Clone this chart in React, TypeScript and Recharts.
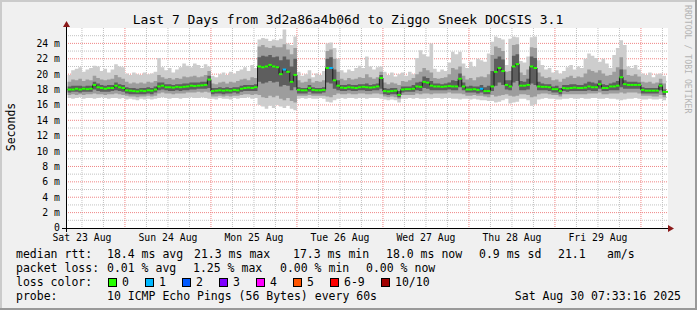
import { ComposedChart, Area, Line, XAxis, YAxis, CartesianGrid } from 'recharts'

const MONO = '"DejaVu Sans Mono", "Liberation Mono", monospace'

// hours since Sat 23 Aug 00:00, one sample per hour
const startHour = 8

// median rtt (ms)
const med = [
  18.0, 18.0, 18.1, 18.0, 18.1, 18.05, 18.1,
  18.6, 18.3, 18.2, 18.1, 18.2, 18.2, 18.5, 18.3, 18.2,
  17.9, 17.85, 17.8, 17.75, 17.85, 17.8, 17.9, 17.85, 18.0,
  18.4, 18.5, 18.3, 18.3, 18.25, 18.35, 18.3, 18.35, 18.4,
  18.5, 18.45, 18.5, 18.55, 18.6, 19.3,
  17.8, 17.85, 17.9, 17.85, 17.9, 17.85, 17.95, 17.9,
  18.1, 18.2, 18.25, 18.2, 18.3,
  21.0, 20.9, 21.0, 21.2, 21.0, 20.9,
  20.0, 20.6, 20.3, 19.0, 19.9,
  17.95, 17.9, 17.9, 18.2, 17.95, 17.9, 17.9, 17.95,
  20.8, 20.8, 19.2, 18.5,
  18.25, 18.2, 18.3, 18.25, 18.2, 18.3, 18.35, 18.3, 18.25, 18.3,
  18.4, 19.5,
  17.8, 17.75, 17.8, 17.85, 17.3,
  18.0, 18.05, 18.05, 18.1, 18.4, 18.35,
  19.0, 18.9, 18.5,
  18.4, 18.4, 18.35, 18.4, 18.45, 18.4, 18.4,
  19.4, 18.4,
  18.0, 18.0, 18.05, 17.95,
  18.1,
  17.8, 17.8,
  18.4, 20.3, 20.8, 20.4, 18.6, 18.4, 21.0, 21.3, 18.5, 18.5, 18.6, 21.0, 20.8, 18.4,
  18.35, 18.35, 18.3, 18.05, 18.05, 17.8,
  18.2, 18.15, 18.2, 18.25, 18.2, 18.2, 18.25,
  18.4, 18.3, 18.3, 18.7, 18.2, 18.2, 18.4, 18.4, 18.5,
  19.6, 18.7, 18.6, 18.6, 18.6, 18.6,
  17.95, 17.85, 17.85, 17.85, 17.85, 18.5, 17.7, 17.7,
]

// slowest ping of each hour
const maxRtt = [
  19.9, 20.5, 20.7, 20.9, 20.3, 20.6, 20.8,
  21.1, 21.0, 20.4, 20.7, 20.2, 20.6, 21.3, 21.0, 20.9,
  20.1, 19.9, 20.2, 20.0, 19.9, 20.2, 20.0, 20.1, 20.3,
  22.1, 20.9, 20.5, 20.8, 20.2, 20.6, 20.9, 21.4, 21.1,
  20.9, 21.4, 21.2, 20.8, 21.3, 21.0,
  19.8, 19.6, 20.0, 20.2, 19.9, 20.3, 20.1, 20.4,
  20.6, 20.9, 20.4, 21.2, 20.8,
  24.5, 24.7, 24.6, 24.3, 24.5, 24.4,
  24.6, 25.8, 24.0, 23.8, 24.9,
  20.3, 19.8, 20.0, 20.5, 19.6, 20.1, 19.9, 20.4,
  24.0, 24.1, 23.4, 22.0,
  20.5, 20.2, 20.6, 20.4, 20.8, 21.1, 20.8, 22.3, 21.0, 20.6,
  20.9, 21.0,
  20.3, 19.9, 20.2, 19.7, 20.0,
  20.2, 19.8, 20.3, 20.0, 22.1, 23.1,
  22.6, 22.3, 24.0,
  20.7, 20.3, 20.6, 20.4, 21.5, 22.9, 22.6,
  22.9, 21.4,
  20.8, 21.6, 21.0, 22.0,
  21.8,
  21.6, 22.7,
  24.2, 24.9, 24.7, 24.5, 21.2, 24.6, 24.9, 24.8, 21.7, 21.5, 22.3, 24.8, 24.9, 21.8,
  21.2, 20.6, 20.8, 20.2, 20.5, 20.1,
  20.4, 20.9, 21.2, 20.6, 21.0, 20.8, 22.0,
  22.7, 22.4, 22.1, 21.6, 22.0, 21.4, 20.8, 22.5, 23.4,
  24.4, 23.8, 21.0, 20.8, 21.2, 20.6,
  20.1, 19.9, 20.2, 19.6, 20.0, 20.1, 19.8, 19.8,
]

// fastest ping of each hour
const minRtt = [
  16.9, 16.8, 16.9, 17.0, 16.8, 16.9, 16.9,
  16.8, 16.9, 17.0, 16.9, 16.8, 16.9, 16.9, 16.8, 16.9,
  16.7, 16.8, 16.7, 16.6, 16.8, 16.7, 16.8, 16.7, 16.8,
  16.9, 17.0, 16.9, 16.8, 16.9, 16.9, 16.8, 16.9, 16.9,
  17.0, 16.9, 16.9, 17.0, 16.9, 16.8,
  16.8, 16.7, 16.9, 16.8, 16.8, 16.7, 16.9, 16.8,
  16.9, 16.9, 17.0, 16.8, 16.9,
  16.0, 15.8, 15.5, 15.9, 15.6, 16.0,
  15.8, 15.6, 15.9, 15.5, 15.3,
  16.8, 16.9, 16.8, 16.9, 16.8, 16.8, 16.9, 16.8,
  16.4, 16.3, 16.6, 16.8,
  16.9, 16.8, 16.9, 16.9, 16.8, 16.9, 16.9, 16.8, 16.9, 16.9,
  16.9, 16.8,
  16.7, 16.6, 16.7, 16.6, 16.3,
  16.8, 16.8, 16.9, 16.8, 16.9, 16.8,
  16.8, 16.9, 16.8,
  16.9, 16.9, 16.8, 16.9, 16.9, 16.8, 16.8,
  16.7, 16.8,
  16.8, 16.7, 16.8, 16.7,
  16.6,
  16.6, 16.5,
  16.5, 16.3, 16.4, 16.6, 16.8, 16.2, 16.3, 16.4, 16.8, 16.8, 16.6, 15.9, 16.1, 16.7,
  16.8, 16.9, 16.8, 16.8, 16.7, 16.7,
  16.8, 16.8, 16.9, 16.8, 16.8, 16.9, 16.8,
  16.8, 16.9, 16.9, 16.8, 16.8, 16.9, 16.8, 16.8, 16.7,
  16.6, 16.7, 16.8, 16.8, 16.9, 16.8,
  16.7, 16.7, 16.8, 16.7, 16.7, 16.8, 16.6, 16.6,
]

// 2nd / 9th ping band
const bandHi = [
  19.0, 19.3, 19.2, 19.4, 19.1, 19.3, 19.2,
  19.8, 19.5, 19.3, 19.2, 19.3, 19.4, 19.9, 19.6, 19.4,
  19.0, 18.8, 18.9, 18.8, 18.9, 18.8, 19.0, 18.9, 19.1,
  19.9, 19.6, 19.4, 19.5, 19.3, 19.5, 19.4, 19.7, 19.6,
  19.7, 19.8, 19.6, 19.7, 19.9, 20.4,
  18.8, 18.7, 18.9, 19.0, 18.8, 19.0, 18.9, 19.1,
  19.3, 19.4, 19.2, 19.6, 19.5,
  23.6, 23.8, 23.5, 23.4, 23.7, 23.5,
  23.5, 23.9, 23.2, 22.6, 23.4,
  19.2, 18.9, 19.0, 19.4, 18.9, 19.1, 19.0, 19.2,
  23.0, 23.2, 22.0, 20.3,
  19.4, 19.2, 19.5, 19.3, 19.4, 19.6, 19.5, 20.0, 19.6, 19.4,
  19.6, 20.3,
  18.9, 18.7, 18.9, 18.8, 18.6,
  19.1, 19.0, 19.2, 19.5, 20.0, 20.3,
  20.8, 20.5, 20.2,
  19.5, 19.4, 19.5, 19.6, 20.0, 20.8, 20.6,
  21.0, 19.8,
  19.3, 19.5, 19.2, 19.6,
  19.7,
  19.6, 20.0,
  22.5, 23.6, 23.4, 23.0, 20.3, 20.4, 23.8, 23.9, 20.2, 19.9, 20.6, 23.5, 23.4, 20.2,
  19.7, 19.5, 19.6, 19.2, 19.3, 19.0,
  19.4, 19.6, 19.8, 19.5, 19.7, 19.6, 20.1,
  20.6, 20.4, 20.2, 20.5, 20.1, 19.8, 19.9, 20.3, 20.9,
  22.2, 20.6, 19.9, 19.8, 20.0, 19.7,
  19.0, 18.9, 19.0, 18.8, 18.9, 19.4, 18.8, 18.8,
]

const bandLo = [
  17.3, 17.4, 17.3, 17.4, 17.3, 17.4, 17.4,
  17.5, 17.4, 17.4, 17.3, 17.4, 17.4, 17.5, 17.4, 17.3,
  17.2, 17.1, 17.1, 17.0, 17.1, 17.1, 17.2, 17.1, 17.2,
  17.5, 17.6, 17.5, 17.5, 17.4, 17.5, 17.5, 17.5, 17.6,
  17.6, 17.6, 17.7, 17.6, 17.7, 17.6,
  17.1, 17.1, 17.2, 17.1, 17.2, 17.1, 17.2, 17.2,
  17.3, 17.4, 17.4, 17.3, 17.4,
  17.3, 17.0, 16.9, 17.2, 17.0, 17.2,
  16.8, 16.6, 16.9, 16.5, 16.3,
  17.2, 17.2, 17.2, 17.3, 17.2, 17.2, 17.2, 17.2,
  17.1, 17.0, 17.3, 17.5,
  17.4, 17.4, 17.5, 17.4, 17.4, 17.5, 17.5, 17.4, 17.4, 17.5,
  17.5, 17.4,
  17.1, 17.0, 17.1, 17.0, 16.8,
  17.3, 17.3, 17.3, 17.3, 17.5, 17.4,
  17.5, 17.5, 17.4,
  17.5, 17.5, 17.5, 17.5, 17.6, 17.5, 17.5,
  17.5, 17.4,
  17.2, 17.2, 17.3, 17.2,
  17.2,
  17.1, 17.0,
  17.3, 17.1, 17.2, 17.3, 17.4, 17.2, 17.1, 17.2, 17.4, 17.4, 17.3, 17.0, 17.1, 17.4,
  17.5, 17.5, 17.4, 17.3, 17.3, 17.1,
  17.4, 17.4, 17.4, 17.4, 17.4, 17.4, 17.4,
  17.5, 17.5, 17.5, 17.6, 17.4, 17.4, 17.5, 17.5, 17.5,
  17.6, 17.5, 17.6, 17.6, 17.6, 17.5,
  17.2, 17.2, 17.2, 17.1, 17.1, 17.3, 17.0, 17.0,
]

// 4th / 7th ping band (dark core)
const coreHi = [
  18.4, 18.5, 18.5, 18.5, 18.4, 18.5, 18.5,
  19.0, 18.8, 18.6, 18.5, 18.6, 18.6, 18.9, 18.7, 18.6,
  18.3, 18.2, 18.2, 18.1, 18.2, 18.2, 18.3, 18.2, 18.4,
  18.9, 18.9, 18.7, 18.7, 18.6, 18.7, 18.7, 18.8, 18.8,
  18.9, 18.9, 18.9, 19.0, 19.0, 19.8,
  18.2, 18.2, 18.3, 18.2, 18.3, 18.2, 18.3, 18.3,
  18.5, 18.6, 18.6, 18.6, 18.7,
  22.2, 22.4, 22.3, 22.5, 22.2, 22.3,
  21.8, 22.3, 21.9, 21.0, 22.0,
  18.3, 18.2, 18.2, 18.6, 18.3, 18.2, 18.2, 18.3,
  22.0, 22.2, 20.6, 19.2,
  18.6, 18.6, 18.7, 18.6, 18.6, 18.7, 18.7, 18.8, 18.6, 18.7,
  18.8, 19.9,
  18.2, 18.1, 18.2, 18.2, 17.8,
  18.4, 18.4, 18.4, 18.6, 18.9, 19.0,
  19.7, 19.5, 19.1,
  18.8, 18.8, 18.7, 18.8, 18.9, 19.2, 19.1,
  20.1, 18.9,
  18.4, 18.5, 18.4, 18.4,
  18.6,
  18.3, 18.5,
  20.4, 22.0, 22.3, 21.9, 19.2, 19.2, 22.4, 22.6, 19.1, 19.0, 19.4, 22.3, 22.1, 19.0,
  18.8, 18.7, 18.7, 18.4, 18.5, 18.2,
  18.6, 18.6, 18.7, 18.7, 18.6, 18.6, 18.8,
  19.0, 18.9, 18.8, 19.2, 18.7, 18.6, 18.8, 18.9, 19.1,
  20.6, 19.2, 19.0, 19.0, 19.0, 18.9,
  18.3, 18.2, 18.2, 18.2, 18.2, 18.8, 18.0, 18.0,
]

const coreLo = [
  17.6, 17.7, 17.7, 17.6, 17.7, 17.7, 17.7,
  18.0, 17.8, 17.7, 17.7, 17.7, 17.8, 17.9, 17.8, 17.7,
  17.5, 17.4, 17.4, 17.4, 17.4, 17.4, 17.5, 17.4, 17.6,
  17.9, 18.0, 17.9, 17.8, 17.8, 17.9, 17.8, 17.9, 17.9,
  18.0, 18.0, 18.1, 18.1, 18.1, 18.2,
  17.4, 17.5, 17.5, 17.4, 17.5, 17.5, 17.6, 17.5,
  17.7, 17.8, 17.8, 17.8, 17.8,
  19.0, 18.8, 18.9, 19.1, 18.9, 19.0,
  18.4, 18.6, 18.5, 17.9, 18.3,
  17.5, 17.5, 17.5, 17.7, 17.5, 17.5, 17.5, 17.6,
  18.9, 18.8, 18.1, 17.9,
  17.8, 17.8, 17.9, 17.8, 17.8, 17.9, 17.9, 17.8, 17.8, 17.9,
  17.9, 18.1,
  17.4, 17.3, 17.4, 17.4, 17.0,
  17.6, 17.7, 17.7, 17.7, 17.9, 17.8,
  18.2, 18.1, 17.9,
  17.9, 17.9, 17.9, 17.9, 18.0, 17.9, 17.9,
  18.3, 17.9,
  17.6, 17.6, 17.6, 17.5,
  17.6,
  17.4, 17.4,
  17.8, 18.5, 18.9, 18.6, 18.0, 17.9, 18.9, 19.1, 17.9, 17.9, 18.0, 18.8, 18.6, 17.9,
  17.9, 17.9, 17.8, 17.6, 17.6, 17.4,
  17.8, 17.7, 17.8, 17.8, 17.8, 17.8, 17.8,
  17.9, 17.8, 17.8, 18.1, 17.8, 17.8, 17.9, 17.9, 17.9,
  18.3, 18.1, 18.1, 18.1, 18.1, 18.1,
  17.5, 17.5, 17.5, 17.5, 17.5, 17.9, 17.3, 17.3,
]

// hours whose median was drawn with 1/10 loss
const lossHours = [68, 81, 123]

const dayTicks = [12, 36, 60, 84, 108, 132, 156]
const dayLabels = ['Sat 23 Aug', 'Sun 24 Aug', 'Mon 25 Aug', 'Tue 26 Aug', 'Wed 27 Aug', 'Thu 28 Aug', 'Fri 29 Aug']
const yTicks = [0, 2, 4, 6, 8, 10, 12, 14, 16, 18, 20, 22, 24]

const rttLegend = ['18.4 ms avg', '21.3 ms max', '17.3 ms min', '18.0 ms now', '0.9 ms sd', '21.1', 'am/s']
const lossLegend = ['0.01 % avg', '1.25 % max', '0.00 % min', '0.00 % now']
const lossColors = [
  { label: '0', color: '#26ff00' },
  { label: '1', color: '#00b8ff' },
  { label: '2', color: '#0059ff' },
  { label: '3', color: '#7e00ff' },
  { label: '4', color: '#ff00ff' },
  { label: '5', color: '#ff5500' },
  { label: '6-9', color: '#ff0000' },
  { label: '10/10', color: '#a10000' },
]

const rows = med.map((m, i) => ({
  h: startHour + i,
  med: m,
  outer: [minRtt[i], maxRtt[i]],
  band: [bandLo[i], bandHi[i]],
  core: [coreLo[i], coreHi[i]],
  loss: lossHours.includes(startHour + i) ? 1 : 0,
}))

const majorX = [24, 48, 72, 96, 120, 144, 168]
const minorX: number[] = []
for (let h = 12; h <= 174; h += 6) if (h % 24 !== 0) minorX.push(h)
const majorY = yTicks.filter((v) => v > 0)
const minorY = [1, 3, 5, 7, 9, 11, 13, 15, 17, 19, 21, 23, 25]

const rttX = [107, 194, 293, 386, 479, 558, 607]
const lossX = [107, 193, 280, 366]
const boxX = [108, 145, 182, 219, 256, 293, 330, 381]

function MedianDot(props: any) {
  const { cx, cy, payload, index } = props
  if (cx == null || cy == null) return <g key={`m${index}`} />
  return (
    <rect
      key={`m${index}`}
      x={cx}
      y={cy - 1}
      width={3.6}
      height={2}
      fill={payload.loss ? '#00b8ff' : '#26ff00'}
    />
  )
}

export default function App() {
  const txt = { fontFamily: MONO, fontSize: 11.5, fill: '#000' }
  return (
    <div
      style={{
        position: 'absolute',
        left: 0,
        top: 0,
        width: 697,
        height: 310,
        background: '#f0f0f0',
        overflow: 'hidden',
      }}
    >
      <ComposedChart width={697} height={310} data={rows} margin={{ top: 28, right: 29, bottom: 62, left: 0 }}>
        <CartesianGrid
          fill="#ffffff"
          stroke="#c2c2c2"
          strokeDasharray="1 1"
          horizontalValues={minorY}
          verticalValues={minorX}
        />
        <CartesianGrid
          stroke="#f08585"
          strokeDasharray="1 1"
          horizontalValues={majorY}
          verticalValues={majorX}
        />
        <XAxis
          type="number"
          dataKey="h"
          domain={[7.55, 175.55]}
          allowDataOverflow
          ticks={dayTicks}
          interval={0}
          tickFormatter={(v: number) => dayLabels[dayTicks.indexOf(v)] ?? ''}
          axisLine={false}
          tickLine={false}
          tickSize={4}
          tickMargin={2}
          height={20}
          tick={{ fontSize: 9.8, fontFamily: MONO, fill: '#000' }}
        />
        <YAxis
          type="number"
          domain={[0, 26]}
          allowDataOverflow
          ticks={yTicks}
          interval={0}
          tickFormatter={(v: number) => (v === 0 ? '0' : `${v} m`)}
          axisLine={false}
          tickLine={false}
          tickSize={4}
          tickMargin={2}
          width={66}
          tick={{ fontSize: 9.8, fontFamily: MONO, fill: '#000' }}
        />
        <Area dataKey="outer" type="stepAfter" fill="#cdcdcd" fillOpacity={1} stroke="none" isAnimationActive={false} />
        <Area dataKey="band" type="stepAfter" fill="#9d9d9d" fillOpacity={1} stroke="none" isAnimationActive={false} />
        <Area dataKey="core" type="stepAfter" fill="#5e5e5e" fillOpacity={1} stroke="none" isAnimationActive={false} />
        <Line
          dataKey="med"
          type="stepAfter"
          stroke="#1c1c1c"
          strokeWidth={1}
          dot={(p: any) => <MedianDot {...p} />}
          activeDot={false}
          isAnimationActive={false}
        />
      </ComposedChart>

      <svg
        width={697}
        height={310}
        style={{ position: 'absolute', left: 0, top: 0, pointerEvents: 'none' }}
      >
        {/* frame shading */}
        <rect x={0} y={0} width={697} height={2} fill="#cbcbcb" />
        <rect x={0} y={0} width={2} height={310} fill="#cbcbcb" />
        <rect x={695} y={0} width={2} height={310} fill="#999999" />
        <rect x={0} y={308} width={697} height={2} fill="#999999" />

        {/* axes with arrows */}
        <line x1={62} y1={228.5} x2={670} y2={228.5} stroke="#000" strokeWidth={1} />
        <line x1={66.5} y1={232} x2={66.5} y2={25} stroke="#000" strokeWidth={1} />
        <polygon points="668,225 674,228.5 668,232" fill="#8b1a1a" />
        <polygon points="63,27 66.5,21 70,27" fill="#8b1a1a" />

        <text x={348} y={23.5} textAnchor="middle" style={{ fontFamily: MONO, fontSize: 13, fill: '#000' }}>
          Last 7 Days from 3d2a86a4b06d to Ziggo Sneek DOCSIS 3.1
        </text>

        <text
          transform="translate(14.5,127) rotate(-90)"
          textAnchor="middle"
          style={{ fontFamily: MONO, fontSize: 11.5, fill: '#000' }}
        >
          Seconds
        </text>

        <text
          transform="translate(685,5) rotate(90)"
          style={{ fontFamily: MONO, fontSize: 8.2, fill: '#b4b4b4' }}
        >
          RRDTOOL / TOBI OETIKER
        </text>

        <text x={16} y={257.5} style={txt}>median rtt:</text>
        {rttLegend.map((s, i) => (
          <text key={s} x={rttX[i]} y={257.5} style={txt}>{s}</text>
        ))}

        <text x={16} y={271.5} style={txt}>packet loss:</text>
        {lossLegend.map((s, i) => (
          <text key={s + i} x={lossX[i]} y={271.5} style={txt}>{s}</text>
        ))}

        <text x={16} y={285.5} style={txt}>loss color:</text>
        {lossColors.map((c, i) => (
          <g key={c.label}>
            <rect x={boxX[i] + 0.5} y={278.5} width={8} height={8} fill={c.color} stroke="#000" strokeWidth={1} />
            <text x={boxX[i] + 14} y={285.5} style={txt}>{c.label}</text>
          </g>
        ))}

        <text x={16} y={299.5} style={txt}>probe:</text>
        <text x={107} y={299.5} style={txt}>10 ICMP Echo Pings (56 Bytes) every 60s</text>
        <text x={681} y={299.5} textAnchor="end" style={txt}>Sat Aug 30 07:33:16 2025</text>
      </svg>
    </div>
  )
}
